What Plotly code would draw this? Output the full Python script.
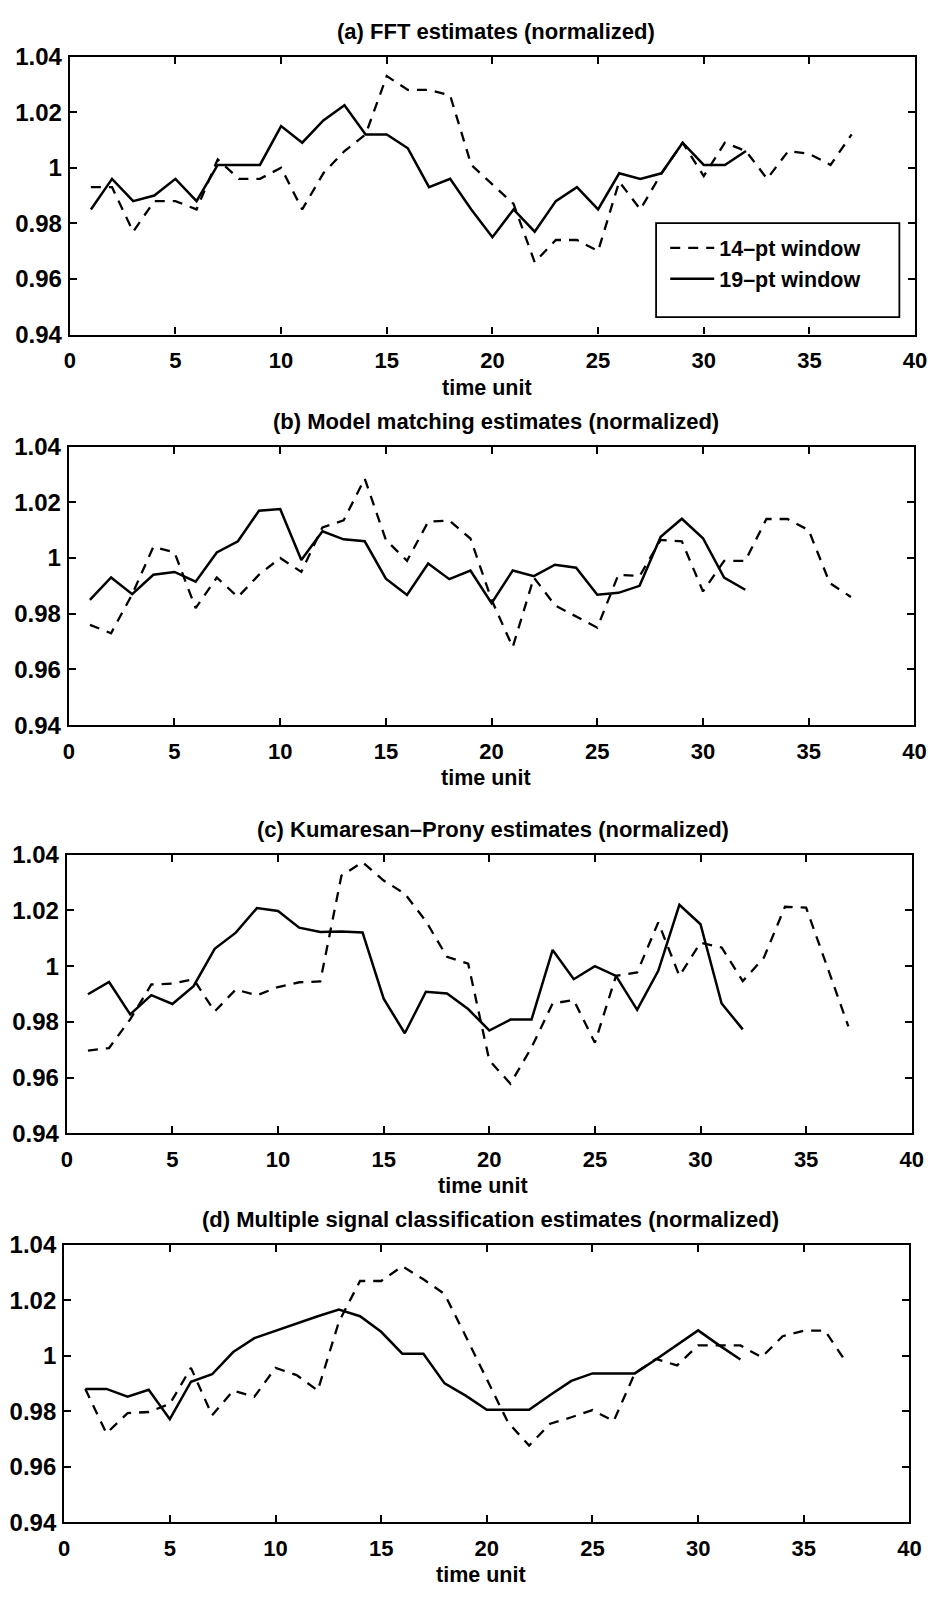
import plotly.graph_objects as go

W, H = 946, 1604

# ---------------- data ----------------
t14 = [1, 2, 3, 4, 5, 6, 7, 8, 9, 10, 11, 12, 13, 14, 15, 16, 17, 18, 19, 20,
       21, 22, 23, 24, 25, 26, 27, 28, 29, 30, 31, 32, 33, 34, 35, 36, 37]
t19 = [1, 2, 3, 4, 5, 6, 7, 8, 9, 10, 11, 12, 13, 14, 15, 16, 17, 18, 19, 20,
       21, 22, 23, 24, 25, 26, 27, 28, 29, 30, 31, 32]

fft_14 = [0.993, 0.993, 0.977, 0.988, 0.988, 0.985, 1.003, 0.996, 0.996, 1.000,
          0.985, 0.998, 1.006, 1.012, 1.033, 1.028, 1.028, 1.026, 1.001, 0.994,
          0.987, 0.966, 0.974, 0.974, 0.970, 0.995, 0.985, 0.998, 1.009, 0.997,
          1.009, 1.006, 0.996, 1.006, 1.005, 1.001, 1.012]
fft_19 = [0.985, 0.996, 0.988, 0.990, 0.996, 0.988, 1.001, 1.001, 1.001, 1.015,
          1.009, 1.017, 1.0225, 1.012, 1.012, 1.007, 0.993, 0.996, 0.985, 0.975,
          0.985, 0.977, 0.988, 0.993, 0.985, 0.998, 0.996, 0.998, 1.009, 1.001,
          1.001, 1.006]

mm_14 = [0.976, 0.973, 0.987, 1.004, 1.002, 0.982, 0.993, 0.986, 0.994, 1.000,
         0.995, 1.011, 1.0135, 1.0285, 1.0065, 0.999, 1.013, 1.0135, 1.007, 0.985,
         0.968, 0.993, 0.983, 0.979, 0.975, 0.994, 0.9935, 1.0065, 1.006, 0.988,
         0.999, 0.999, 1.014, 1.014, 1.010, 0.991, 0.986]
mm_19 = [0.985, 0.993, 0.987, 0.994, 0.995, 0.9915, 1.002, 1.006, 1.017, 1.0176,
         0.9993, 1.0096, 1.0067, 1.006, 0.9926, 0.9867, 0.998, 0.9924, 0.9955, 0.9838,
         0.9955, 0.9935, 0.9976, 0.9965, 0.9868, 0.9875, 0.990, 1.0076, 1.0141, 1.0071,
         0.993, 0.9886]

kp_14 = [0.9697, 0.9706, 0.9809, 0.9934, 0.9937, 0.9953, 0.9837, 0.9916, 0.9895, 0.9925,
         0.9942, 0.9945, 1.0324, 1.0373, 1.0307, 1.026, 1.0161, 1.0033, 1.0009, 0.9662,
         0.9578, 0.9708, 0.9866, 0.9878, 0.9725, 0.9965, 0.9977, 1.0157, 0.9965, 1.0084,
         1.0067, 0.9946, 1.003, 1.0213, 1.021, 0.9998, 0.9784]
kp_19 = [0.9899, 0.9943, 0.9827, 0.9896, 0.9864, 0.9928, 1.0062, 1.012, 1.0208, 1.0198,
         1.0138, 1.0122, 1.0124, 1.0121, 0.9883, 0.9759, 0.9908, 0.9902, 0.9846, 0.9769,
         0.9808, 0.9808, 1.0058, 0.9953, 1.000, 0.9965, 0.9843, 0.9983, 1.022, 1.015,
         0.9866, 0.9773]

mu_14 = [0.988, 0.972, 0.9793, 0.9797, 0.9826, 0.9956, 0.9785, 0.9874, 0.9852, 0.9956,
         0.993, 0.9874, 1.0122, 1.0269, 1.0269, 1.0322, 1.0275, 1.0222, 1.007, 0.9918,
         0.976, 0.9676, 0.9755, 0.9778, 0.9804, 0.9764, 0.9936, 0.9988, 0.9965, 1.0037,
         1.0037, 1.0037, 0.9994, 1.007, 1.009, 1.009, 0.9977]
mu_19 = [0.988, 0.988, 0.9852, 0.9877, 0.9771, 0.9906, 0.9933, 1.0013, 1.0063, 1.009,
         1.0116, 1.0142, 1.0166, 1.0142, 1.0086, 1.0007, 1.0007, 0.990, 0.9856, 0.9805,
         0.9805, 0.9805, 0.9858, 0.9909, 0.9936, 0.9936, 0.9936, 0.9986, 1.0037, 1.0091,
         1.0037, 0.9986]

titles = ["(a) FFT estimates (normalized)",
          "(b) Model matching estimates (normalized)",
          "(c) Kumaresan\u2013Prony estimates (normalized)",
          "(d) Multiple signal classification estimates (normalized)"]
series = [(fft_14, fft_19), (mm_14, mm_19), (kp_14, kp_19), (mu_14, mu_19)]
legend_names = ["14\u2013pt window", "19\u2013pt window"]
xlabel = "time unit"

yticks = [0.94, 0.96, 0.98, 1.00, 1.02, 1.04]
ytext = ["0.94", "0.96", "0.98", "1", "1.02", "1.04"]
xticks = [0, 5, 10, 15, 20, 25, 30, 35, 40]

# ---------------- layout geometry (pixels) ----------------
panels = [(65, 926.7, 43.3, 326.0),
          (64, 926.0, 440.0, 723.3),
          (62, 923.3, 855.0, 1138.5),
          (59.3, 921.0, 1251.7, 1534.0)]

def fx(px):
    return px / W

def fy(py):
    return 1 - py / H

FONT = "Liberation Sans, Arial, Helvetica, sans-serif"
ytickfont = dict(family=FONT, size=24, color="black", weight="bold")
xtickfont = dict(family=FONT, size=22, color="black", weight="bold")
textfont = dict(family=FONT, size=22, color="black", weight="bold")

fig = go.Figure()
annotations = []
layout_axes = {}

for i, ((l, r, t, b), (s14, s19), title) in enumerate(zip(panels, series, titles)):
    n = i + 1
    xa = "x" if n == 1 else f"x{n}"
    ya = "y" if n == 1 else f"y{n}"
    fig.add_trace(go.Scatter(x=t14, y=s14, mode="lines", xaxis=xa, yaxis=ya,
                             name=legend_names[0], showlegend=(n == 1),
                             line=dict(color="black", width=2.3, dash="10px,8px")))
    fig.add_trace(go.Scatter(x=t19, y=s19, mode="lines", xaxis=xa, yaxis=ya,
                             name=legend_names[1], showlegend=(n == 1),
                             line=dict(color="black", width=2.5)))
    common = dict(showline=True, linecolor="black", linewidth=2.2, mirror="ticks",
                  ticks="inside", ticklen=7, tickwidth=1.8, tickcolor="black",
                  showgrid=False, zeroline=False)
    layout_axes["xaxis" if n == 1 else f"xaxis{n}"] = dict(
        domain=[fx(l), fx(r)], range=[0, 40], tickvals=xticks,
        anchor=ya, ticklabelstandoff=5, tickfont=xtickfont, **common)
    layout_axes["yaxis" if n == 1 else f"yaxis{n}"] = dict(
        domain=[fy(b), fy(t)], range=[0.94, 1.04], tickvals=yticks, ticktext=ytext,
        anchor=xa, ticklabelstandoff=1, tickfont=ytickfont, **common)
    cx = (l + r) / 2
    annotations.append(dict(text=title, x=fx(cx + 4), y=fy(t - 26), xref="paper", yref="paper",
                            xanchor="center", yanchor="middle", showarrow=False,
                            font=textfont))
    annotations.append(dict(text=xlabel, x=fx(cx - 6), y=fy(b + 54), xref="paper", yref="paper",
                            xanchor="center", yanchor="middle", showarrow=False,
                            font=dict(family=FONT, size=21.5, color="black", weight="bold")))

shapes = [dict(type="rect", xref="paper", yref="paper",
               x0=fx(662.7), x1=fx(910.7), y0=fy(308.3), y1=fy(212.7),
               line=dict(color="black", width=1.8), fillcolor="rgba(0,0,0,0)")]

fig.update_layout(
    width=W, height=H, autosize=False, margin=dict(l=0, r=0, t=0, b=0),
    paper_bgcolor="white", plot_bgcolor="white",
    font=dict(family=FONT, color="black"),
    annotations=annotations, shapes=shapes,
    legend=dict(x=fx(672), y=fy(217), xanchor="left", yanchor="top",
                bgcolor="rgba(0,0,0,0)", borderwidth=0, tracegroupgap=0,
                itemwidth=44,
                font=dict(family=FONT, size=21.5, color="black", weight="bold")),
    **layout_axes,
)

fig.write_html("out.html", config={"responsive": False})
